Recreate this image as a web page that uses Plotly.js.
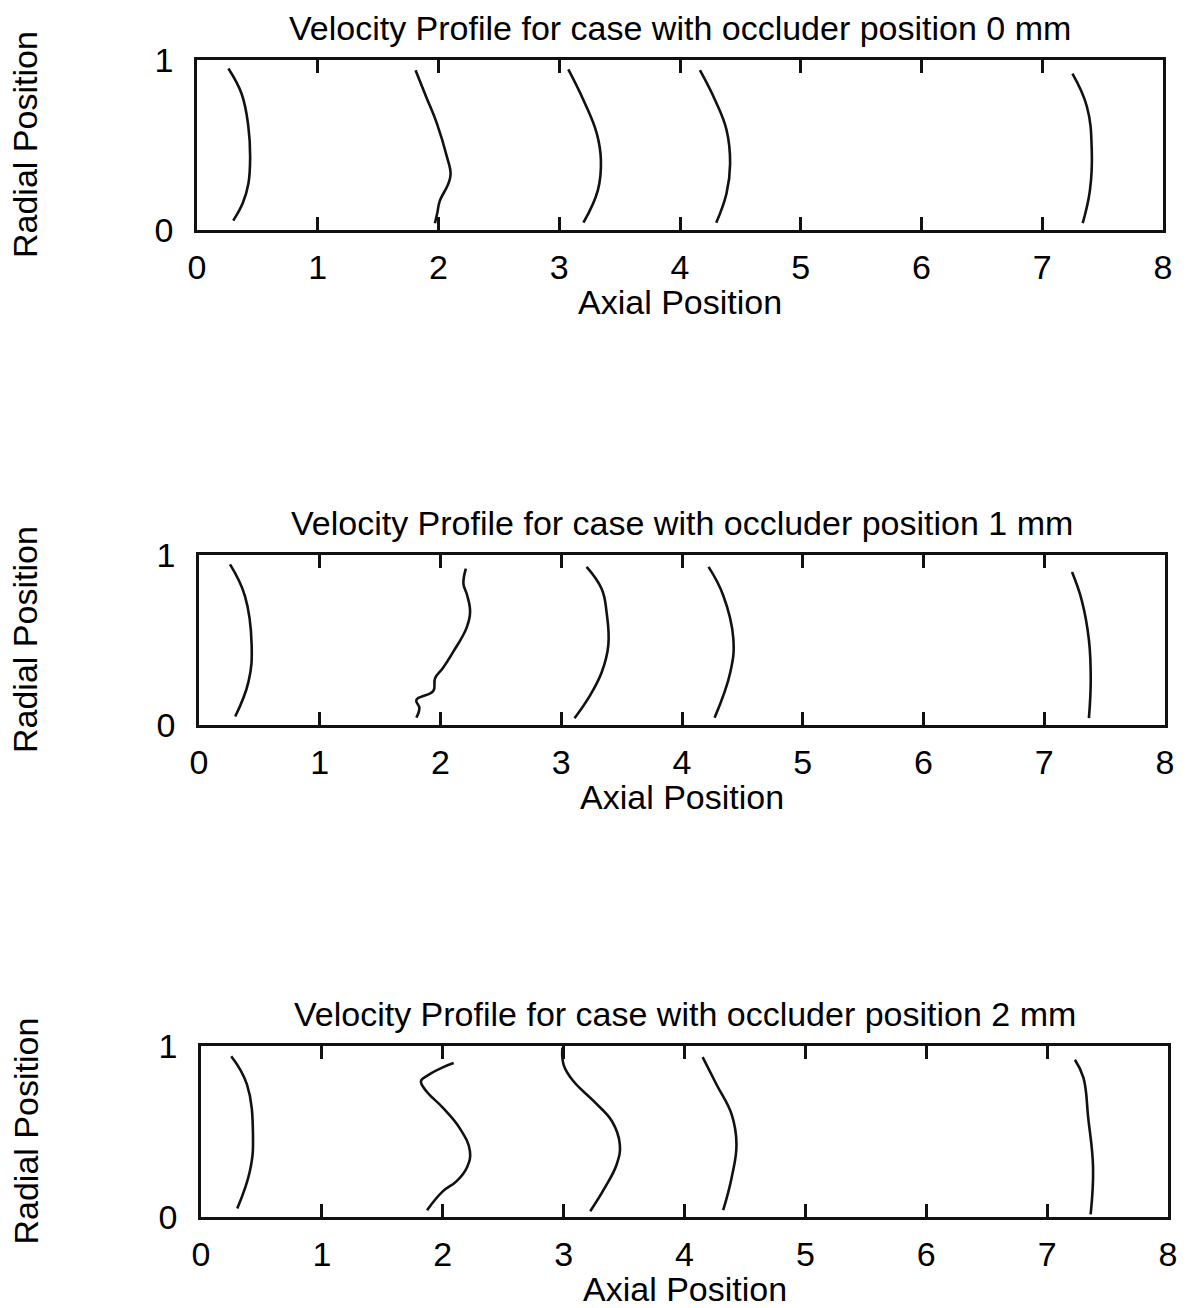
<!DOCTYPE html>
<html>
<head>
<meta charset="utf-8">
<script src="https://cdn.plot.ly/plotly-3.0.1.min.js"></script>
<style>body{margin:0;padding:0;background:#fff}#chart{width:1195px;height:1308px}</style>
</head>
<body>
<div id="chart"></div>
<script>
// ---- Data ----
const titles = [
  "Velocity Profile for case with occluder position 0 mm",
  "Velocity Profile for case with occluder position 1 mm",
  "Velocity Profile for case with occluder position 2 mm"
];
const xTickVals = [0,1,2,3,4,5,6,7,8];
const yTickVals = [0,1];
const xAxisLabel = "Axial Position";
const yAxisLabel = "Radial Position";

// Occluder 0 mm
const p0_c1_x = [0.26,0.37,0.425,0.44,0.425,0.38,0.30];
const p0_c1_y = [0.95,0.80,0.61,0.43,0.27,0.16,0.055];
const p0_c2_x = [1.81,1.90,1.985,2.07,2.10,2.08,2.01,1.99,1.97];
const p0_c2_y = [0.94,0.78,0.63,0.43,0.33,0.27,0.17,0.10,0.04];
const p0_c3_x = [3.075,3.20,3.31,3.345,3.32,3.20];
const p0_c3_y = [0.945,0.765,0.57,0.41,0.235,0.043];
const p0_c4_x = [4.165,4.29,4.385,4.415,4.385,4.30];
const p0_c4_y = [0.94,0.765,0.59,0.39,0.215,0.043];
const p0_c5_x = [7.25,7.37,7.41,7.395,7.335];
const p0_c5_y = [0.92,0.725,0.47,0.235,0.04];

// Occluder 1 mm
const p1_c1_x = [0.257,0.38,0.436,0.41,0.30];
const p1_c1_y = [0.945,0.76,0.47,0.255,0.05];
const p1_c2_x = [2.21,2.19,2.22,2.245,2.215,2.105,2.02,1.955,1.94,1.80,1.825,1.80];
const p1_c2_y = [0.92,0.83,0.765,0.665,0.57,0.43,0.335,0.275,0.20,0.147,0.10,0.043];
const p1_c3_x = [3.21,3.335,3.375,3.39,3.335,3.24,3.11];
const p1_c3_y = [0.93,0.80,0.665,0.47,0.31,0.176,0.04];
const p1_c4_x = [4.22,4.34,4.425,4.40,4.27];
const p1_c4_y = [0.93,0.765,0.51,0.31,0.043];
const p1_c5_x = [7.23,7.31,7.37,7.385,7.37];
const p1_c5_y = [0.90,0.735,0.50,0.265,0.04];

// Occluder 2 mm
const p2_c1_x = [0.25,0.38,0.43,0.405,0.30];
const p2_c1_y = [0.94,0.775,0.48,0.27,0.05];
const p2_c2_x = [2.09,2.00,1.88,1.82,1.865,2.00,2.14,2.225,2.20,2.115,2.00,1.87];
const p2_c2_y = [0.90,0.875,0.83,0.795,0.735,0.64,0.52,0.385,0.29,0.21,0.15,0.04];
const p2_c3_x = [2.99,3.00,3.08,3.245,3.40,3.465,3.44,3.34,3.22];
const p2_c3_y = [0.99,0.89,0.795,0.68,0.56,0.425,0.31,0.17,0.034];
const p2_c4_x = [4.15,4.265,4.39,4.43,4.39,4.32];
const p2_c4_y = [0.935,0.775,0.60,0.425,0.23,0.04];
const p2_c5_x = [7.23,7.30,7.34,7.38,7.36];
const p2_c5_y = [0.92,0.815,0.58,0.29,0.015];

const panels = [
  [[p0_c1_x,p0_c1_y],[p0_c2_x,p0_c2_y],[p0_c3_x,p0_c3_y],[p0_c4_x,p0_c4_y],[p0_c5_x,p0_c5_y]],
  [[p1_c1_x,p1_c1_y],[p1_c2_x,p1_c2_y],[p1_c3_x,p1_c3_y],[p1_c4_x,p1_c4_y],[p1_c5_x,p1_c5_y]],
  [[p2_c1_x,p2_c1_y],[p2_c2_x,p2_c2_y],[p2_c3_x,p2_c3_y],[p2_c4_x,p2_c4_y],[p2_c5_x,p2_c5_y]]
];

// ---- Layout geometry ----
const W = 1195, H = 1308;
const boxes = [
  {l:197, r:1163, t:60,   b:230},
  {l:199, r:1165, t:555,  b:725},
  {l:201, r:1168, t:1046, b:1217}
];
const FONT = "Liberation Sans, Arial, Helvetica, sans-serif";
const FS = 34;

const traces = [];
const layout = {
  width: W, height: H,
  margin: {l:0, r:0, t:0, b:0},
  paper_bgcolor: "#fff", plot_bgcolor: "#fff",
  showlegend: false,
  font: {family: FONT, color: "#000", size: FS},
  annotations: []
};

panels.forEach((curves, i) => {
  const n = i + 1;
  const xa = n === 1 ? "x" : "x" + n;
  const ya = n === 1 ? "y" : "y" + n;
  curves.forEach(([xs, ys]) => {
    traces.push({
      type: "scatter", mode: "lines", x: xs, y: ys,
      xaxis: xa, yaxis: ya,
      line: {color: "#111", width: 2.6, shape: "spline", smoothing: 1.2},
      hoverinfo: "skip"
    });
  });
  const b = boxes[i];
  const xKey = n === 1 ? "xaxis" : "xaxis" + n;
  const yKey = n === 1 ? "yaxis" : "yaxis" + n;
  layout[xKey] = {
    domain: [b.l / W, b.r / W],
    anchor: ya,
    range: [0, 8],
    tickvals: xTickVals,
    ticktext: xTickVals.map(String),
    ticks: "inside", ticklen: 13, tickwidth: 3, tickcolor: "#111",
    showline: true, linecolor: "#111", linewidth: 2.8, mirror: "ticks",
    showgrid: false, zeroline: false,
    tickfont: {family: FONT, size: FS, color: "#000"},
    ticklabelstandoff: 5
  };
  layout[yKey] = {
    domain: [1 - b.b / H, 1 - b.t / H],
    anchor: xa,
    range: [0, 1],
    tickvals: yTickVals,
    ticktext: yTickVals.map(String),
    ticks: "", showline: true, linecolor: "#111", linewidth: 2.8, mirror: true,
    showgrid: false, zeroline: false,
    tickfont: {family: FONT, size: FS, color: "#000"},
    ticklabelstandoff: 14
  };
  layout.annotations.push({
    text: titles[i], xref: "paper", yref: "paper",
    x: ((b.l + b.r) / 2) / W, y: 1 - (b.t - 32) / H,
    xanchor: "center", yanchor: "middle", showarrow: false,
    font: {family: FONT, size: FS, color: "#000"}
  });
  layout.annotations.push({
    text: xAxisLabel, xref: "paper", yref: "paper",
    x: ((b.l + b.r) / 2) / W, y: 1 - (b.b + 72) / H,
    xanchor: "center", yanchor: "middle", showarrow: false,
    font: {family: FONT, size: FS, color: "#000"}
  });
  layout.annotations.push({
    text: yAxisLabel, xref: "paper", yref: "paper",
    x: 25 / W, y: 1 - ((b.t + b.b) / 2) / H,
    xanchor: "center", yanchor: "middle", textangle: -90, showarrow: false,
    font: {family: FONT, size: FS, color: "#000"}
  });
});

Plotly.newPlot("chart", traces, layout, {staticPlot: true, displayModeBar: false});
</script>
</body>
</html>
